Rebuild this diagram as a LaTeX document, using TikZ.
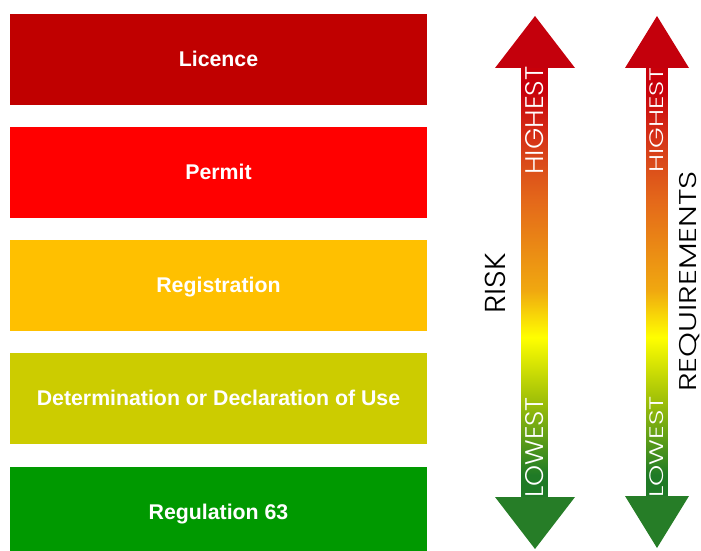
\documentclass[tikz,border=0pt]{standalone}
\usepackage{fontspec}
\setmainfont{Liberation Sans}
\newfontfamily\thinfont{Poppins Light}
\definecolor{gB0}{HTML}{1F7A26}
\definecolor{gB2}{HTML}{5A9C18}
\definecolor{gB1}{HTML}{A0C008}
\definecolor{gY}{HTML}{FFFF00}
\definecolor{gA}{HTML}{F0A810}
\definecolor{gO}{HTML}{E4681A}
\definecolor{gR2}{HTML}{D9481A}
\definecolor{gR1}{HTML}{D42A14}
\definecolor{gR0}{HTML}{C8000A}
\definecolor{headred}{HTML}{C4000C}
\definecolor{headgreen}{HTML}{267D27}
\pgfdeclareverticalshading{riskgrad}{100bp}{
 color(0bp)=(gB0);
 color(27.6bp)=(gB0);
 color(31.6bp)=(gB2);
 color(36.3bp)=(gB1);
 color(43.6bp)=(gY);
 color(49.1bp)=(gA);
 color(59.6bp)=(gO);
 color(64.3bp)=(gR2);
 color(67.8bp)=(gR1);
 color(72.4bp)=(gR0);
 color(100bp)=(gR0)}
\tikzset{
 x=1pt,y=-1pt,
 levelbox/.style={minimum width=417pt,inner sep=0pt,text=white,text height=15pt,text depth=1pt,font=\bfseries\fontsize{21.3}{24}\selectfont,align=center},
 shaftlabel/.style={text=white,rotate=90,inner sep=0pt,font=\thinfont\fontsize{26}{28}\selectfont},
 sidelabel/.style={text=black,rotate=90,inner sep=0pt,font=\thinfont\fontsize{31}{32}\selectfont}
}
\begin{document}
\begin{tikzpicture}
\useasboundingbox (0,0) rectangle (701,551);
\node[levelbox,fill={rgb,255:red,192;green,0;blue,0},minimum height=91pt] (licence) at (218.5,59.5) {Licence};
\node[levelbox,fill={rgb,255:red,255;green,0;blue,0},minimum height=91pt] (permit) at (218.5,172.5) {Permit};
\node[levelbox,fill={rgb,255:red,255;green,192;blue,0},minimum height=91pt] (registration) at (218.5,285.5) {Registration};
\node[levelbox,fill={rgb,255:red,204;green,204;blue,0},minimum height=91pt] (determination) at (218.5,398.5) {Determination or Declaration of Use};
\node[levelbox,fill={rgb,255:red,0;green,153;blue,0},minimum height=84pt,text height=20pt,text depth=0pt] (regulation) at (218.5,509) {Regulation 63};
% risk arrow
\path[shading=riskgrad] (521.5,68) rectangle (547.7,497);
\fill[headred] (535,16) -- (575,68) -- (495,68) -- cycle;
\fill[headgreen] (535,549) -- (575,497) -- (495,497) -- cycle;
% requirements arrow
\path[shading=riskgrad] (646.7,68) rectangle (667.3,497);
\fill[headred] (657,16) -- (689,68) -- (625,68) -- cycle;
\fill[headgreen] (657,548) -- (689,496) -- (625,496) -- cycle;
\node[shaftlabel] (high1) at (535,120.5) {\scalebox{1.05}[0.98]{HIGHEST}};
\node[shaftlabel] (low1) at (535,447.5) {\scalebox{1.03}[0.98]{LOWEST}};
\node[shaftlabel] (high2) at (657,120) {\scalebox{1.02}[0.75]{HIGHEST}};
\node[shaftlabel] (low2) at (657,447) {\scalebox{1.04}[0.75]{LOWEST}};
\node[sidelabel] (risk) at (495,283) {\scalebox{1}[0.93]{RISK}};
\node[sidelabel] (req) at (689.5,281.5) {\scalebox{1.02}[0.78]{REQUIREMENTS}};
\end{tikzpicture}
\end{document}
